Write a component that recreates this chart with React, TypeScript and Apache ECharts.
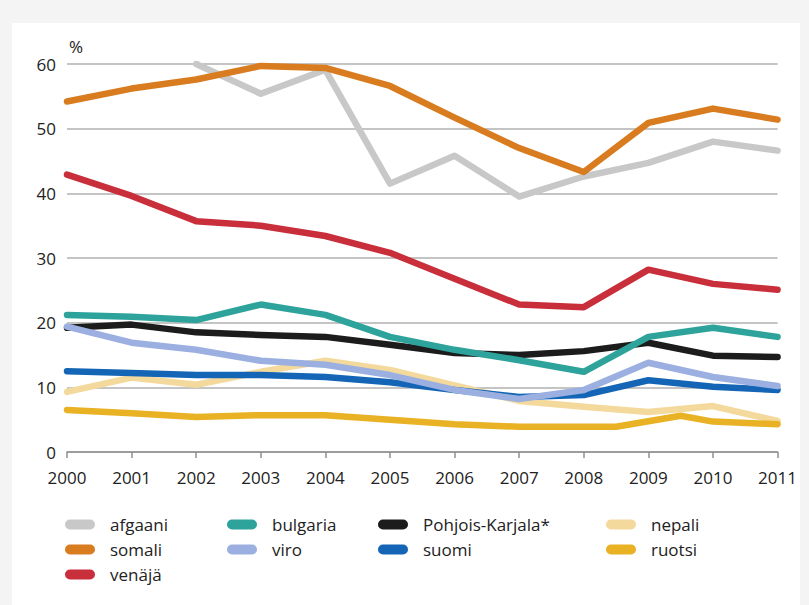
import React, { useEffect, useRef } from 'react';
import * as echarts from 'echarts';

const years = [2000, 2001, 2002, 2003, 2004, 2005, 2006, 2007, 2008, 2009, 2010, 2011];
const yTicks = [0, 10, 20, 30, 40, 50, 60];

const afgaani = [null, null, 60.0, 55.4, 59.1, 41.5, 45.8, 39.5, 42.6, 44.7, 48.0, 46.6];
const somali = [54.2, 56.2, 57.6, 59.7, 59.4, 56.6, 51.7, 47.0, 43.3, 50.9, 53.1, 51.4];
const venaja = [42.9, 39.6, 35.7, 35.0, 33.4, 30.8, 26.8, 22.8, 22.4, 28.2, 26.0, 25.1];
const bulgaria = [21.2, 20.9, 20.4, 22.8, 21.2, 17.8, 15.8, 14.2, 12.4, 17.8, 19.2, 17.8];
const pohjoisKarjala = [19.2, 19.7, 18.5, 18.1, 17.8, 16.6, 15.3, 15.0, 15.6, 16.9, 14.9, 14.7];
const viro = [19.4, 16.9, 15.8, 14.1, 13.5, 11.9, 9.6, 8.2, 9.6, 13.8, 11.6, 10.2];
const suomi = [12.5, 12.2, 11.9, 11.9, 11.6, 10.8, 9.6, 8.5, 8.8, 11.1, 10.1, 9.6];
const nepali = [9.3, 11.5, 10.4, 12.4, 14.1, 12.7, 10.3, 7.9, 7.0, 6.2, 7.1, 4.8];
const ruotsiYears = [2000, 2001, 2002, 2003, 2004, 2005, 2006, 2007, 2008, 2008.5, 2009.5, 2010, 2011];
const ruotsi = [6.5, 6.0, 5.4, 5.7, 5.7, 5.0, 4.3, 3.9, 3.9, 3.9, 5.6, 4.7, 4.3];

const legendCol1 = ['afgaani', 'somali', 'venäjä'];
const legendCol2 = ['bulgaria', 'viro'];
const legendCol3 = ['Pohjois-Karjala*', 'suomi'];
const legendCol4 = ['nepali', 'ruotsi'];

const FONT = "'Open Sans', 'Noto Sans', sans-serif";
const TEXT = '#222222';
const PILL = 'path://M5,0 L25,0 A5,5 0 0 1 25,10 L5,10 A5,5 0 0 1 5,0 Z';

function pairs(xs: number[], vs: (number | null)[]) {
  return xs.map((x, i) => [x, vs[i]]);
}

function mkSeries(name: string, color: string, data: any[]) {
  return {
    name,
    type: 'line',
    data,
    color,
    symbol: 'none',
    showSymbol: false,
    connectNulls: false,
    lineStyle: { color, width: 6.5, join: 'round', cap: 'round' },
    emphasis: { disabled: true },
  };
}

function mkLegend(data: string[], left: number) {
  return {
    orient: 'vertical',
    left,
    top: 488,
    data,
    icon: PILL,
    itemWidth: 30,
    itemHeight: 10,
    itemGap: 8,
    selectedMode: false,
    textStyle: { fontFamily: FONT, fontSize: 17, color: TEXT, padding: [0, 0, 0, 10] },
  };
}

export default function App() {
  const ref = useRef<HTMLDivElement>(null);
  useEffect(() => {
    document.body.style.margin = '0';
    if (!ref.current) return;
    const chart = echarts.init(ref.current, null, { renderer: 'svg' });
    chart.setOption({
      animation: false,
      backgroundColor: '#ffffff',
      grid: { left: 55, right: 22, top: 41, bottom: 153, containLabel: false },
      xAxis: {
        type: 'value',
        min: years[0],
        max: years[years.length - 1],
        interval: 1,
        axisLine: { show: true, lineStyle: { color: '#8f8f8f', width: 1.5 } },
        axisTick: { show: true, length: 6, lineStyle: { color: '#8f8f8f', width: 1.5 } },
        splitLine: { show: false },
        axisLabel: {
          margin: 17,
          fontFamily: FONT,
          fontSize: 17,
          color: TEXT,
          formatter: (v: number) => String(v),
        },
      },
      yAxis: {
        type: 'value',
        min: yTicks[0],
        max: yTicks[yTicks.length - 1],
        interval: 10,
        axisLine: { show: false },
        axisTick: { show: false },
        splitLine: { show: true, lineStyle: { color: '#c4c4c4', width: 2 } },
        axisLabel: { margin: 11, fontFamily: FONT, fontSize: 17, color: TEXT },
      },
      legend: [
        mkLegend(legendCol1, 48),
        mkLegend(legendCol2, 210),
        mkLegend(legendCol3, 361),
        mkLegend(legendCol4, 589),
      ],
      graphic: [
        {
          type: 'text',
          left: 57,
          top: 15,
          style: { text: '%', fontFamily: FONT, fontSize: 17, fill: TEXT },
        },
      ],
      series: [
        mkSeries('afgaani', '#c8c8c8', pairs(years, afgaani)),
        mkSeries('somali', '#d97c1f', pairs(years, somali)),
        mkSeries('venäjä', '#c92f3b', pairs(years, venaja)),
        mkSeries('nepali', '#f4d99c', pairs(years, nepali)),
        mkSeries('ruotsi', '#e9b224', pairs(ruotsiYears, ruotsi)),
        mkSeries('Pohjois-Karjala*', '#1c1c1c', pairs(years, pohjoisKarjala)),
        mkSeries('bulgaria', '#2ea39b', pairs(years, bulgaria)),
        mkSeries('suomi', '#1565b6', pairs(years, suomi)),
        mkSeries('viro', '#9bb0e0', pairs(years, viro)),
      ],
    });
    return () => chart.dispose();
  }, []);

  return (
    <div style={{ position: 'relative', width: 809, height: 605, background: '#f4f4f4', overflow: 'hidden' }}>
      <div ref={ref} style={{ position: 'absolute', left: 12, top: 23, width: 788, height: 582 }} />
    </div>
  );
}
